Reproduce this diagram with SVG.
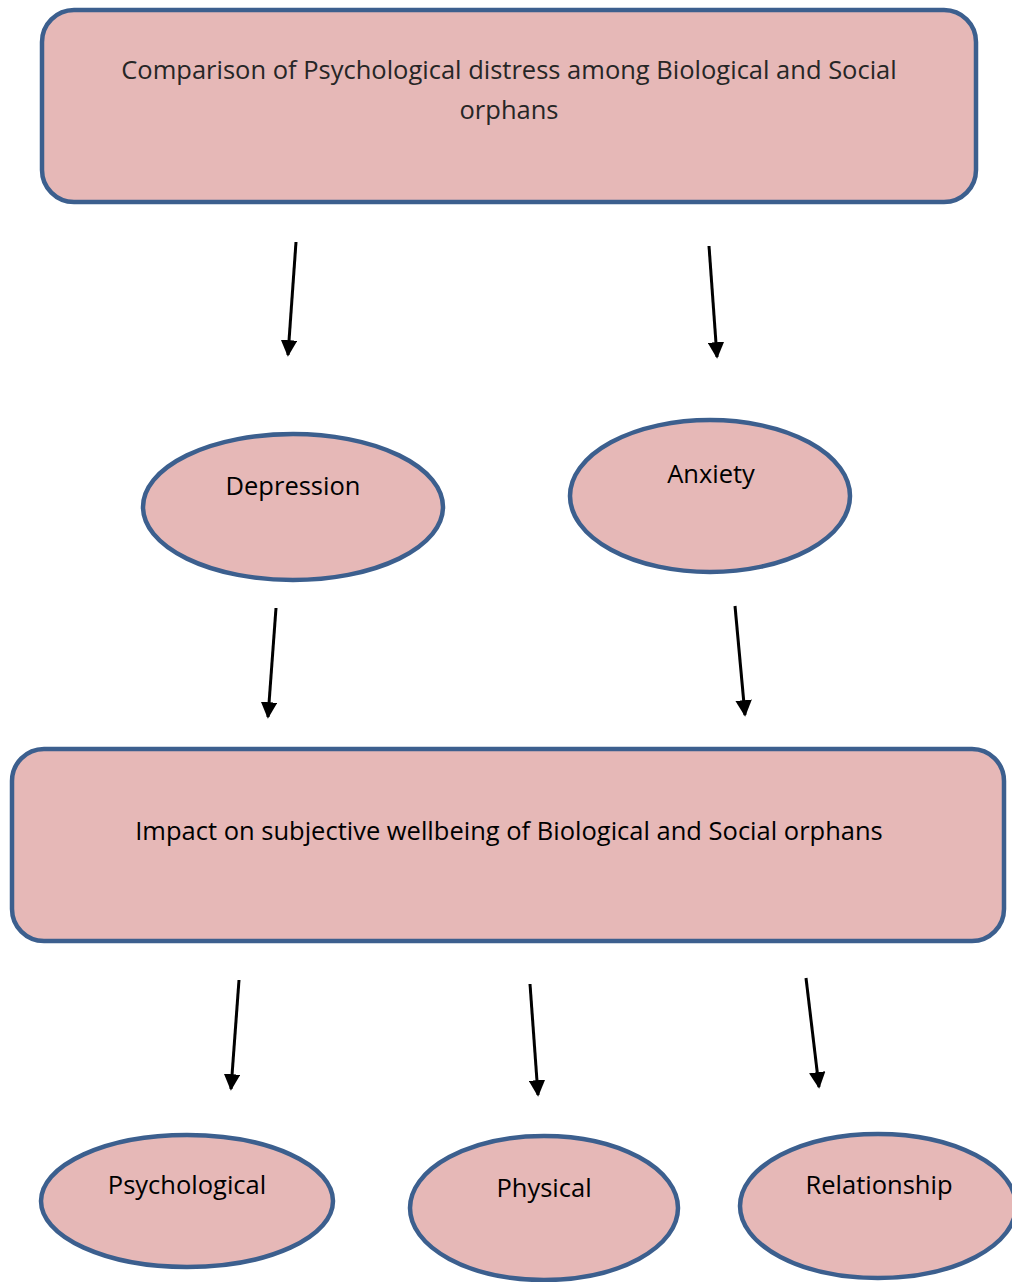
<svg xmlns="http://www.w3.org/2000/svg" width="1012" height="1282" viewBox="0 0 1012 1282">
<defs>
<style>
.box{fill:#E6B8B7;stroke:#3C5F8E;stroke-width:4.5}
.t{font-family:"Open Sans","Liberation Sans",sans-serif;font-size:25.5px;fill:#000;text-anchor:middle}
.tg{fill:#262626}
.c{stroke:#000;stroke-width:3;fill:none;marker-end:url(#ah)}
</style>
<marker id="ah" viewBox="0 0 10 10" refX="9" refY="5" markerWidth="5.5" markerHeight="5.5" orient="auto" markerUnits="strokeWidth">
<path d="M0,0 L10,5 L0,10 z" fill="#000"/>
</marker>
</defs>
<rect width="1012" height="1282" fill="#fff"/>
<g id="connectors">
<line class="c" x1="296" y1="242" x2="288" y2="355"/>
<line class="c" x1="709" y1="246" x2="717" y2="357"/>
<line class="c" x1="276" y1="608" x2="268" y2="717"/>
<line class="c" x1="735" y1="606" x2="745" y2="715"/>
<line class="c" x1="239" y1="980" x2="231" y2="1089"/>
<line class="c" x1="530" y1="984" x2="538" y2="1095"/>
<line class="c" x1="806" y1="978" x2="819" y2="1087"/>
</g>
<g id="top">
<rect class="box" x="42" y="10" width="934" height="192" rx="32"/>
<text class="t tg" x="509" y="79">Comparison of Psychological distress among Biological and Social</text>
<text class="t tg" x="509" y="119">orphans</text>
</g>
<g id="depression">
<ellipse class="box" cx="293" cy="507" rx="150" ry="73"/>
<text class="t" x="293" y="495">Depression</text>
</g>
<g id="anxiety">
<ellipse class="box" cx="710" cy="496" rx="140" ry="76"/>
<text class="t" x="711" y="483">Anxiety</text>
</g>
<g id="impact">
<rect class="box" x="12" y="749" width="992" height="192" rx="32"/>
<text class="t" x="509" y="840">Impact on subjective wellbeing of Biological and Social orphans</text>
</g>
<g id="psychological">
<ellipse class="box" cx="187" cy="1201" rx="146" ry="66"/>
<text class="t" x="187" y="1194">Psychological</text>
</g>
<g id="physical">
<ellipse class="box" cx="544" cy="1208" rx="134" ry="72"/>
<text class="t" x="544" y="1197">Physical</text>
</g>
<g id="relationship">
<ellipse class="box" cx="878" cy="1206" rx="138" ry="72"/>
<text class="t" x="879" y="1194">Relationship</text>
</g>
</svg>
